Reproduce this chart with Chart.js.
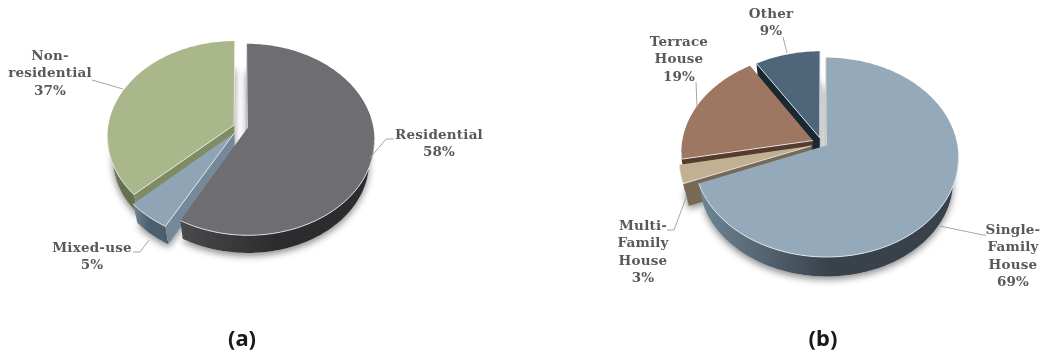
<!DOCTYPE html>
<html>
<head>
<meta charset="utf-8">
<style>
html,body{margin:0;padding:0;background:#fff;width:1043px;height:358px;overflow:hidden}
canvas{position:absolute;top:0}
#pieA{left:0}
#pieB{left:520px}
</style>
<script src="https://cdn.jsdelivr.net/npm/chart.js@4/dist/chart.umd.min.js"></script>
</head>
<body>
<canvas id="pieA" width="520" height="358"></canvas>
<canvas id="pieB" width="523" height="358"></canvas>
<script>
// Building-use shares
const useLabels = ['Residential', 'Mixed-use', 'Non-residential'];
const useValues = [58, 5, 37];
const useExplode = [7, 10, 7];
const useTop = ['#6e6d72', '#8fa5b6', '#a9b78a'];
const useSide = [['#2c2c2e', '#4a494d'], ['#4c5f6c', '#71869a'], ['#66724f', '#7f8c64']];
const useWall = ['#3a3a3d', '#76899a', '#7e8b63'];

// Housing-type shares
const houseLabels = ['Single-Family House', 'Multi-Family House', 'Terrace House', 'Other'];
const houseValues = [69, 3, 19, 9];
const houseExplode = [5, 11, 10, 8];
const houseTop = ['#94a9ba', '#c2b093', '#9e7762', '#4f667a'];
const houseSide = [['#39424b', '#6f8696'], ['#6e6350', '#7d7159'], ['#4e3328', '#5e3f32'], ['#16222c', '#1d2b36']];
const houseWall = ['#4a5660', '#766a55', '#553a2e', '#1a2832'];

const FONT_LABEL = 'bold 13.5px "DejaVu Serif"';
const FONT_CAPTION = 'bold 22px "Noto Sans"';
const INK = '#595959';
const LEADER = '#a6a6a6';
const BEVEL = 'rgba(235,238,240,0.85)';

// Tilted-disc projection: the far side recedes, the near side swells.
function projector(cx, cy, R, tilt, persp) {
  return (X, Y) => {
    const w = 1 / (1 - persp * Y / R);
    return {x: cx + X * w, y: cy + tilt * Y * w};
  };
}

function path(ctx, pts) {
  ctx.beginPath();
  pts.forEach((p, i) => i ? ctx.lineTo(p.x, p.y) : ctx.moveTo(p.x, p.y));
  ctx.closePath();
}

const tiltedPie = {
  id: 'tiltedPie',
  beforeDatasetDraw(chart, args, opts) {
    const ctx = chart.ctx;
    const arcs = chart.getDatasetMeta(args.index).data;
    const first = arcs[0];
    const R = first.outerRadius;
    const P = projector(first.x, first.y, R, opts.tilt, opts.persp);

    const shapes = arcs.map((arc, i) => {
      const mid = (arc.startAngle + arc.endAngle) / 2;
      const off = opts.explode[i];
      const ox = Math.cos(mid) * off, oy = Math.sin(mid) * off;
      const n = Math.max(8, Math.round((arc.endAngle - arc.startAngle) * 60));
      const rim = [];
      for (let k = 0; k <= n; k++) {
        const a = arc.startAngle + (arc.endAngle - arc.startAngle) * k / n;
        rim.push(P(ox + R * Math.cos(a), oy + R * Math.sin(a)));
      }
      const apex = P(ox, oy);
      const inner = P(ox + R * .5 * Math.cos(mid), oy + R * .5 * Math.sin(mid));
      return {arc, rim, apex, inner};
    });

    // The lower face sits further from the eye, so it is slightly smaller.
    const drop = p => ({
      x: first.x + (p.x - first.x) * opts.shrink,
      y: first.y + (p.y - first.y) * opts.shrink + opts.depth
    });

    // Soft ground shadow below the whole solid
    shapes.forEach(s => {
      ctx.save();
      ctx.shadowColor = 'rgba(0,0,0,0.45)';
      ctx.shadowBlur = 7;
      ctx.shadowOffsetY = 3;
      ctx.fillStyle = '#fff';
      path(ctx, [s.apex, ...s.rim].map(drop));
      ctx.fill();
      ctx.restore();
    });

    // Back-to-front painting order of the slices
    opts.order.forEach(idx => {
      const s = shapes[idx];

      // Radial walls, only those that face the viewer
      const litEdges = [];
      [s.rim[0], s.rim[s.rim.length - 1]].forEach(edge => {
        const ex = edge.x - s.apex.x, ey = edge.y - s.apex.y;
        const toInner = ex * (s.inner.y - s.apex.y) - ey * (s.inner.x - s.apex.x);
        if (toInner * ex < 0) {
          ctx.fillStyle = opts.wallColors[idx];
          path(ctx, [s.apex, edge, drop(edge), drop(s.apex)]);
          ctx.fill();
          litEdges.push(edge);
        }
      });

      // Curved outer side as one continuous band over the near part of the rim
      const near = [];
      for (let k = 0; k < s.rim.length - 1; k++) {
        if (s.rim[k + 1].x < s.rim[k].x) {
          if (!near.length) near.push(s.rim[k]);
          near.push(s.rim[k + 1]);
        }
      }
      if (near.length > 1) {
        const xs = near.map(p => p.x);
        const grad = ctx.createLinearGradient(Math.min(...xs), 0, Math.max(...xs), 0);
        const sc = opts.sideColors[idx];
        grad.addColorStop(0, sc[1]);
        grad.addColorStop(.5, sc[0]);
        grad.addColorStop(1, sc[0]);
        ctx.fillStyle = grad;
        path(ctx, [...near, ...near.slice().reverse().map(drop)]);
        ctx.fill();
      }

      // Top face
      ctx.fillStyle = s.arc.options.backgroundColor;
      path(ctx, [s.apex, ...s.rim]);
      ctx.fill();

      // Thin light bevel along the near rim and the visible radial edges
      ctx.strokeStyle = BEVEL;
      ctx.lineWidth = 1;
      if (near.length > 1) {
        ctx.beginPath();
        near.forEach((p, i) => i ? ctx.lineTo(p.x, p.y) : ctx.moveTo(p.x, p.y));
        ctx.stroke();
      }
      litEdges.forEach(edge => {
        ctx.beginPath();
        ctx.moveTo(s.apex.x, s.apex.y);
        ctx.lineTo(edge.x, edge.y);
        ctx.stroke();
      });
    });
    return false;
  },
  afterDraw(chart, args, opts) {
    const ctx = chart.ctx;
    ctx.save();
    ctx.strokeStyle = LEADER;
    ctx.lineWidth = 1;
    opts.leaders.forEach(line => {
      ctx.beginPath();
      line.forEach((p, i) => i ? ctx.lineTo(p[0], p[1]) : ctx.moveTo(p[0], p[1]));
      ctx.stroke();
    });
    ctx.fillStyle = INK;
    ctx.font = FONT_LABEL;
    ctx.letterSpacing = '0.2px';
    ctx.textAlign = 'center';
    ctx.textBaseline = 'middle';
    opts.notes.forEach(note => {
      note.lines.forEach((t, i) => ctx.fillText(t, note.x, note.y + i * 17.5));
    });
    ctx.letterSpacing = '0px';
    ctx.fillStyle = '#1a1a1a';
    ctx.font = FONT_CAPTION;
    ctx.fillText(opts.caption.text, opts.caption.x, opts.caption.y);
    ctx.restore();
  }
};

function makePie(id, labels, values, colors, padding, radius, pieOpts) {
  return new Chart(document.getElementById(id), {
    type: 'pie',
    data: {labels, datasets: [{data: values, backgroundColor: colors, borderWidth: 0, radius}]},
    options: {
      responsive: false,
      animation: false,
      layout: {padding},
      plugins: {legend: {display: false}, tooltip: {enabled: false}, tiltedPie: pieOpts}
    },
    plugins: [tiltedPie]
  });
}

makePie('pieA', useLabels, useValues, useTop,
  {left: 0, right: 39, top: 0, bottom: 104}, 126, {
    tilt: .747, persp: .117, shrink: .96, depth: 22,
    explode: useExplode, sideColors: useSide, wallColors: useWall, order: [2, 1, 0],
    leaders: [
      [[370, 158], [386, 139], [394, 139]],
      [[149, 240], [140, 252], [133, 252]],
      [[92, 80], [123, 89]]
    ],
    notes: [
      {lines: ['Residential', '58%'], x: 439, y: 135},
      {lines: ['Mixed-use', '5%'], x: 92, y: 248},
      {lines: ['Non-', 'residential', '37%'], x: 50, y: 56}
    ],
    caption: {text: '(a)', x: 242, y: 340}
  });

makePie('pieB', houseLabels, houseValues, houseTop,
  {left: 81, right: 0, top: 0, bottom: 71}, 131, {
    tilt: .747, persp: .117, shrink: .96, depth: 24,
    explode: houseExplode, sideColors: houseSide, wallColors: houseWall, order: [3, 2, 1, 0],
    leaders: [
      [[420, 226], [463, 235], [466, 235]],
      [[166, 198], [154, 230], [147, 230]],
      [[177, 107], [176, 82]],
      [[267, 53], [263, 37]]
    ],
    notes: [
      {lines: ['Single-', 'Family', 'House', '69%'], x: 493, y: 230},
      {lines: ['Multi-', 'Family', 'House', '3%'], x: 123, y: 226},
      {lines: ['Terrace', 'House', '19%'], x: 159, y: 42},
      {lines: ['Other', '9%'], x: 251, y: 14}
    ],
    caption: {text: '(b)', x: 303, y: 340}
  });
</script>
</body>
</html>
